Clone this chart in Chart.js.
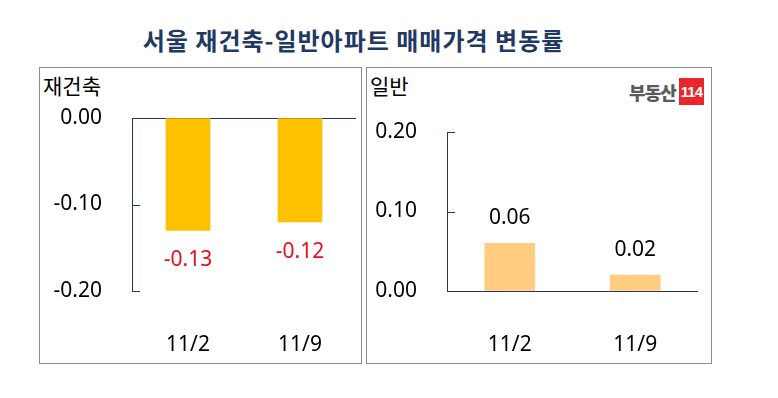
<!DOCTYPE html>
<html>
<head>
<meta charset="utf-8">
<script src="https://cdn.jsdelivr.net/npm/chart.js@4"></script>
<style>
  body { margin: 0; width: 778px; height: 398px; background: #fff; position: relative; overflow: hidden;
         font-family: 'Noto Sans', 'Noto Sans CJK KR', sans-serif; }
  .title { position: absolute; left: 0; width: 707px; top: 22px; text-align: center; letter-spacing: 1px;
           font: bold 24px 'Noto Sans CJK KR', sans-serif; color: #1f3864; }
  .panel { position: absolute; top: 67px; height: 295px; border: 1px solid #8c8c8c; }
  .panel canvas { position: absolute; left: 0; top: 0; }
  .head { position: absolute; left: 3px; top: 2px; font: 21px 'Noto Sans CJK KR', sans-serif; color: #000; }
  .logo { position: absolute; right: 7px; top: 10px; font: 900 18px 'Noto Sans CJK KR', sans-serif; color: #5a5a5a;
          display: flex; align-items: center; letter-spacing: -1px; }
  .logo span { background: #e8262b; color: #fff; font: bold 15px 'Liberation Sans Narrow', 'Liberation Sans', sans-serif;
               padding: 5px 2px; margin-left: 3px; letter-spacing: -1px; }
</style>
</head>
<body>
<div class="title">서울 재건축-일반아파트 매매가격 변동률</div>
<div class="panel" style="left:39px;width:321px">
  <div class="head">재건축</div>
  <canvas id="rebuildChart" width="321" height="295"></canvas>
</div>
<div class="panel" style="left:366px;width:344px">
  <div class="head">일반</div>
  <div class="logo">부동산<span>114</span></div>
  <canvas id="generalChart" width="344" height="295"></canvas>
</div>
<script>
const weeks = ['11/2', '11/9'];
const rebuildValues = [-0.13, -0.12];
const generalValues = [0.06, 0.02];
const rebuildTicks = [-0.2, -0.1, 0];
const generalTicks = [0, 0.1, 0.2];

const axisColor = '#1f3a5a';
const fontFamily = "'Noto Sans', 'Noto Sans CJK KR', sans-serif";

// short tick marks drawn inside the plot, next to the y axis line
const innerTicks = {
  id: 'innerTicks',
  afterDraw(chart) {
    const y = chart.scales.y;
    const ctx = chart.ctx;
    ctx.save();
    ctx.strokeStyle = axisColor;
    ctx.lineWidth = 1;
    y.ticks.forEach(t => {
      if (t.value === 0) return;
      const py = Math.round(y.getPixelForValue(t.value)) + 0.5;
      ctx.beginPath();
      ctx.moveTo(chart.chartArea.left, py);
      ctx.lineTo(chart.chartArea.left + 8, py);
      ctx.stroke();
    });
    ctx.restore();
  }
};

// value labels at the end of each bar
const valueLabels = {
  id: 'valueLabels',
  afterDatasetsDraw(chart, args, opts) {
    const ctx = chart.ctx;
    const meta = chart.getDatasetMeta(0);
    const data = chart.data.datasets[0].data;
    ctx.save();
    ctx.font = '21px ' + fontFamily;
    ctx.fillStyle = opts.color;
    ctx.textAlign = 'center';
    ctx.textBaseline = 'middle';
    meta.data.forEach((bar, i) => {
      ctx.fillText(data[i].toFixed(2), bar.x, bar.y + opts.offset);
    });
    ctx.restore();
  }
};

function makeChart(id, values, ticks, color, barWidth, pad, labelOpts) {
  return new Chart(document.getElementById(id), {
    type: 'bar',
    data: {
      labels: weeks,
      datasets: [{ data: values, backgroundColor: color, barThickness: barWidth }]
    },
    options: {
      responsive: false,
      animation: false,
      events: [],
      layout: { padding: { top: pad.top, right: pad.right, left: 0, bottom: 0 } },
      plugins: {
        legend: { display: false },
        tooltip: { enabled: false },
        valueLabels: labelOpts
      },
      scales: {
        x: {
          grid: { display: false },
          border: { display: false },
          ticks: { color: '#000', padding: 33, font: { family: fontFamily, size: 21 } },
          afterFit(scale) { scale.height = 72; }
        },
        y: {
          min: ticks[0],
          max: ticks[ticks.length - 1],
          afterBuildTicks(scale) { scale.ticks = ticks.map(v => ({ value: v })); },
          grid: {
            drawTicks: false,
            color: c => (c.tick && c.tick.value === 0 ? axisColor : 'transparent')
          },
          border: { color: axisColor },
          ticks: {
            color: '#000',
            padding: 30,
            font: { family: fontFamily, size: 21 },
            callback: v => v.toFixed(2)
          },
          afterFit(scale) { scale.width = pad.left; }
        }
      }
    },
    plugins: [innerTicks, valueLabels]
  });
}

makeChart('rebuildChart', rebuildValues, rebuildTicks, '#ffc000', 44,
  { top: 50, right: 5, left: 92 }, { color: '#e3101b', offset: 30 });
makeChart('generalChart', generalValues, generalTicks, '#ffcc80', 50,
  { top: 64, right: 13, left: 80 }, { color: '#000', offset: -25 });
</script>
</body>
</html>
